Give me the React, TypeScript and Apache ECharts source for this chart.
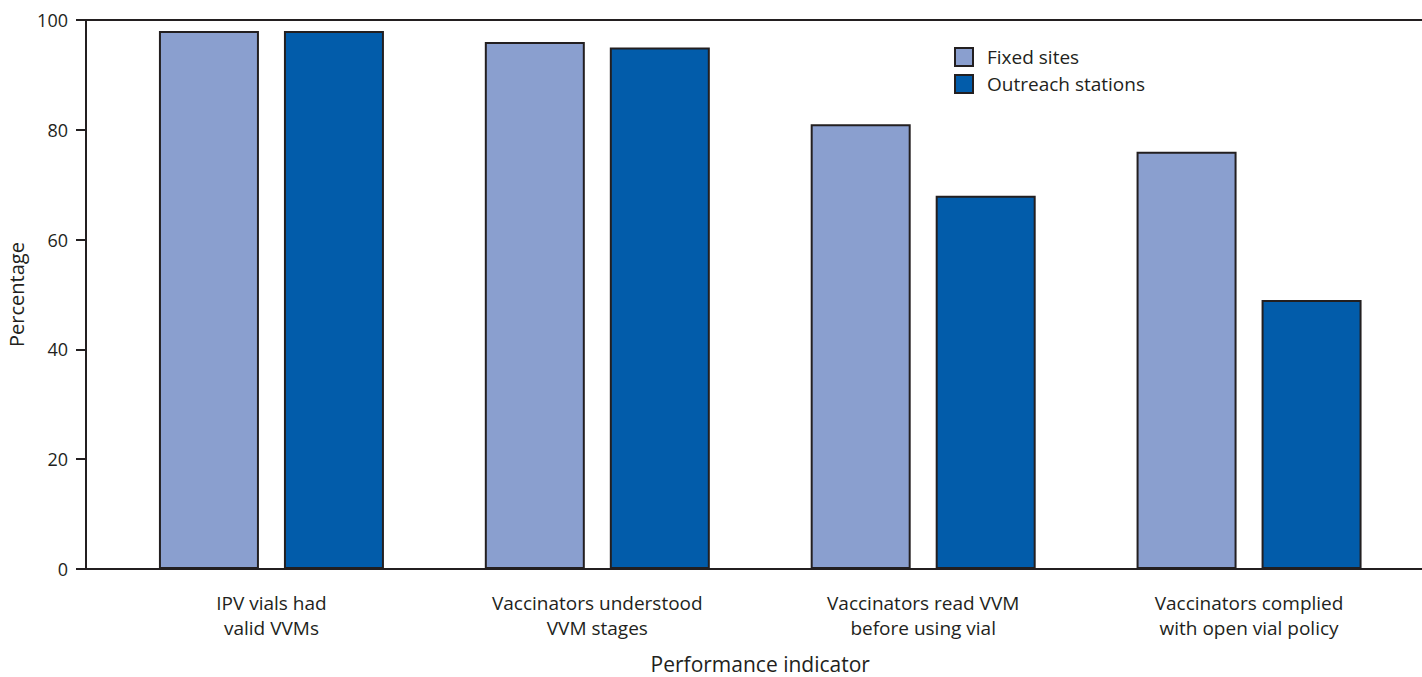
import React, { useEffect, useRef } from "react";
import * as echarts from "echarts";

const categories = [
  "IPV vials had\nvalid VVMs",
  "Vaccinators understood\nVVM stages",
  "Vaccinators read VVM\nbefore using vial",
  "Vaccinators complied\nwith open vial policy",
];
const fixedSites = [98, 96, 81, 76];
const outreachStations = [98, 95, 68, 49];
const seriesNames = ["Fixed sites", "Outreach stations"];
const yMin = 0;
const yMax = 100;
const yInterval = 20;

const INK = "#231f20";
const FONT = "'Open Sans', 'Noto Sans', sans-serif";

export default function App() {
  const ref = useRef<HTMLDivElement>(null);
  useEffect(() => {
    document.body.style.margin = "0";
    if (!ref.current) return;
    const chart = echarts.init(ref.current, undefined, { renderer: "svg" });
    const gridTop = 20;
    const gridBottom = 108;
    chart.setOption({
      animation: false,
      backgroundColor: "#ffffff",
      textStyle: { fontFamily: FONT, color: INK },
      grid: [
        { left: 108.5, right: 10, top: gridTop, bottom: gridBottom, containLabel: false, outerBoundsMode: "none" },
        { left: 86, right: 0, top: gridTop, bottom: gridBottom, containLabel: false, outerBoundsMode: "none" },
      ],
      legend: {
        orient: "vertical",
        left: 954,
        top: 47,
        padding: 0,
        itemWidth: 18,
        itemHeight: 18,
        itemGap: 7,
        icon: "rect",
        data: seriesNames,
        textStyle: { fontFamily: FONT, fontSize: 19, color: INK, padding: [0, 0, 0, 9] },
      },
      xAxis: [
        {
          type: "category",
          gridIndex: 0,
          data: categories,
          axisLine: { show: false },
          axisTick: { show: false },
          axisLabel: {
            fontFamily: FONT,
            fontSize: 19,
            color: INK,
            lineHeight: 25,
            margin: 21,
            align: "center",
          },
          name: "Performance indicator",
          nameLocation: "middle",
          nameGap: 84,
          nameTextStyle: { fontFamily: FONT, fontSize: 21, lineHeight: 22, color: INK },
        },
        {
          type: "value",
          gridIndex: 1,
          min: 0,
          max: 1,
          position: "bottom",
          axisLine: { show: true, lineStyle: { color: INK, width: 2 } },
          axisTick: { show: false },
          axisLabel: { show: false },
          splitLine: { show: false },
        },
        {
          type: "value",
          gridIndex: 1,
          min: 0,
          max: 1,
          position: "top",
          axisLine: { show: true, lineStyle: { color: INK, width: 2 } },
          axisTick: { show: false },
          axisLabel: { show: false },
          splitLine: { show: false },
        },
      ],
      yAxis: [
        {
          type: "value",
          gridIndex: 0,
          min: yMin,
          max: yMax,
          interval: yInterval,
          show: false,
        },
        {
          type: "value",
          gridIndex: 1,
          min: yMin,
          max: yMax,
          interval: yInterval,
          axisLine: { show: true, lineStyle: { color: INK, width: 2 } },
          axisTick: { show: true, inside: false, length: 10, lineStyle: { color: INK, width: 2 } },
          axisLabel: { fontFamily: FONT, fontSize: 18, color: INK, margin: 18 },
          splitLine: { show: false },
          name: "Percentage",
          nameLocation: "middle",
          nameGap: 57,
          nameTextStyle: { fontFamily: FONT, fontSize: 20, color: INK },
        },
      ],
      series: [
        {
          name: seriesNames[0],
          type: "bar",
          xAxisIndex: 0,
          yAxisIndex: 0,
          data: fixedSites,
          barWidth: 100,
          barGap: "25%",
          itemStyle: { color: "#8a9fcf", borderColor: INK, borderWidth: 2 },
        },
        {
          name: seriesNames[1],
          type: "bar",
          xAxisIndex: 0,
          yAxisIndex: 0,
          data: outreachStations,
          barWidth: 100,
          barGap: "25%",
          itemStyle: { color: "#025caa", borderColor: INK, borderWidth: 2 },
        },
      ],
    });
    return () => chart.dispose();
  }, []);
  return <div ref={ref} style={{ width: 1422, height: 677 }} />;
}
